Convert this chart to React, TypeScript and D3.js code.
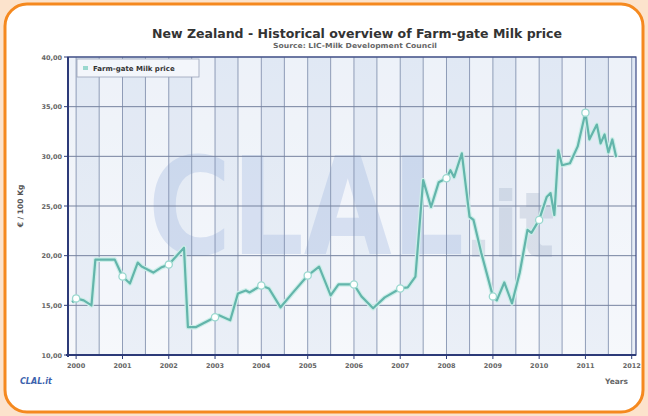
import React from 'react';
import * as d3 from 'd3';

// Farm-gate milk price, NZ (€ / 100 kg)
const months = [
  '1999-12', '2000-01', '2000-03', '2000-05', '2000-06', '2000-11',
  '2001-01', '2001-03', '2001-05', '2001-06', '2001-09', '2001-11',
  '2002-01', '2002-05', '2002-06', '2002-08', '2002-10',
  '2003-01', '2003-02', '2003-05', '2003-07', '2003-09', '2003-10',
  '2004-01', '2004-03', '2004-06', '2004-09',
  '2005-01', '2005-04', '2005-07', '2005-09',
  '2006-01', '2006-03', '2006-06', '2006-09',
  '2007-01', '2007-03', '2007-05', '2007-07', '2007-09', '2007-11',
  '2008-01', '2008-02', '2008-03', '2008-05', '2008-07', '2008-08', '2008-10',
  '2009-01', '2009-02', '2009-04', '2009-06', '2009-08', '2009-10', '2009-11',
  '2010-01', '2010-03', '2010-04', '2010-05', '2010-06', '2010-07', '2010-09', '2010-11',
  '2011-01', '2011-02', '2011-04', '2011-05', '2011-06', '2011-07', '2011-08', '2011-09',
];
const prices = [
  15.3, 15.7, 15.5, 15.0, 19.6, 19.6,
  17.9, 17.2, 19.3, 18.9, 18.3, 18.8,
  19.1, 20.8, 12.8, 12.8, 13.2,
  13.8, 14.0, 13.5, 16.2, 16.5, 16.3,
  17.0, 16.7, 14.8, 16.2,
  18.0, 18.9, 16.0, 17.1,
  17.1, 15.9, 14.7, 15.8,
  16.7, 16.8, 17.9, 27.6, 24.9, 27.4,
  27.8, 28.6, 27.9, 30.3, 23.9, 23.6, 20.3,
  15.9, 15.5, 17.3, 15.2, 18.3, 22.6, 22.3,
  23.6, 25.9, 26.3, 24.1, 30.6, 29.1, 29.3, 31.0,
  34.4, 31.7, 33.2, 31.3, 32.2, 30.4, 31.7, 29.9,
];
const yTicks = [10, 15, 20, 25, 30, 35, 40];
const years = d3.range(2000, 2013);

const W = 648;
const H = 416;
const font = 'DejaVu Sans, Verdana, sans-serif';

const parse = d3.timeParse('%Y-%m');
const points = months.map((m, i) => ({ date: parse(m) as Date, value: prices[i] }));

const x = d3.scaleTime()
  .domain([new Date(1999, 9, 29), new Date(2012, 1, 4)])
  .range([68, 636]);
const y = d3.scaleLinear().domain([10, 40]).range([355, 57]);

const fmt = (v: number) => d3.format('.2f')(v).replace('.', ',');

export default function App() {
  const [x0, x1] = x.range();
  const [yb, yt] = y.range();

  // half-year grid positions
  const halfYears: Date[] = [];
  years.forEach(yr => {
    halfYears.push(new Date(yr, 0, 1));
    if (yr < 2012) halfYears.push(new Date(yr, 6, 1));
  });
  const edges = [x0, ...halfYears.map(d => x(d)), x1];

  const line = d3.line<{ date: Date; value: number }>()
    .x(d => x(d.date))
    .y(d => y(d.value));
  const path = line(points) || '';

  return (
    <div style={{ position: 'absolute', left: 0, top: 0 }}>
      <svg width={W} height={H} style={{ display: 'block' }}>
        <defs>
          <linearGradient id="plotbg" x1="0" y1="0" x2="0" y2="1">
            <stop offset="0%" stopColor="#e6ecf6" />
            <stop offset="100%" stopColor="#f2f5fa" />
          </linearGradient>
          <clipPath id="plotclip">
            <rect x={x0} y={yt} width={x1 - x0} height={yb - yt} />
          </clipPath>
        </defs>

        <rect x={0} y={0} width={W} height={H} fill="#fce3cc" />
        <rect x={5} y={4} width={638} height={408} rx={22} fill="#ffffff" stroke="#f5891f" strokeWidth={3} />

        {/* plot background and bands */}
        <rect x={x0} y={yt} width={x1 - x0} height={yb - yt} fill="url(#plotbg)" />
        {edges.slice(0, -1).map((e, i) => (
          <rect key={i} x={e} y={yt} width={edges[i + 1] - e} height={yb - yt}
            fill={i % 2 === 0 ? '#ffffff' : '#cfdaee'} opacity={i % 2 === 0 ? 0.3 : 0.22} />
        ))}

        {/* watermark */}
        <g clipPath="url(#plotclip)">
          <text transform="translate(148,254) scale(0.836,1)" fontFamily={font} fontWeight="bold"
            fontSize={136} fill="#9cb4df" opacity={0.32}>
            CLAL<tspan fontSize={90} dy={3} fill="#a3b1c8">.it</tspan>
          </text>
        </g>

        {/* grid */}
        {halfYears.map((d, i) => (
          <line key={'v' + i} x1={x(d)} x2={x(d)} y1={yt} y2={yb} stroke="#8593b0" strokeWidth={0.9} />
        ))}
        {yTicks.map(t => (
          <line key={'h' + t} x1={x0} x2={x1} y1={y(t)} y2={y(t)} stroke="#76839f" strokeWidth={1} />
        ))}

        {/* frame */}
        <rect x={x0} y={yt} width={x1 - x0} height={yb - yt} fill="none" stroke="#3b4a86" strokeWidth={1.2} />
        <line x1={x0} x2={x0} y1={yt} y2={yb + 2} stroke="#2c3a78" strokeWidth={2} />
        <line x1={x0 - 2} x2={x1} y1={yb} y2={yb} stroke="#2c3a78" strokeWidth={2} />

        {/* y ticks */}
        {yTicks.map(t => (
          <g key={'yt' + t}>
            <line x1={x0 - 4} x2={x0} y1={y(t)} y2={y(t)} stroke="#2c3a78" strokeWidth={1} />
            <text x={x0 - 6} y={y(t) + 2.5} textAnchor="end" fontFamily={font} fontWeight="bold"
              fontSize={6.5} fill="#666">{fmt(t)}</text>
          </g>
        ))}
        <text transform={`translate(23,${(yt + yb) / 2}) rotate(-90)`} textAnchor="middle"
          fontFamily={font} fontWeight="bold" fontSize={7.5} fill="#555">€ / 100 Kg</text>

        {/* x ticks */}
        {years.map(yr => (
          <g key={'xt' + yr}>
            <line x1={x(new Date(yr, 0, 1))} x2={x(new Date(yr, 0, 1))} y1={yb} y2={yb + 4}
              stroke="#2c3a78" strokeWidth={1} />
            <text x={x(new Date(yr, 0, 1))} y={yb + 13} textAnchor="middle" fontFamily={font}
              fontWeight="bold" fontSize={6.5} fill="#666">{yr}</text>
          </g>
        ))}
        <text x={628} y={384} textAnchor="end" fontFamily={font} fontWeight="bold" fontSize={7.5} fill="#666">Years</text>
        <text x={20} y={384} fontFamily={font} fontWeight="bold" fontStyle="italic" fontSize={8} fill="#3c62ad">CLAL.it</text>

        {/* series */}
        <g clipPath="url(#plotclip)">
          <path d={path} fill="none" stroke="#cdeee9" strokeWidth={4.6} strokeLinejoin="round" />
          <path d={path} fill="none" stroke="#63b5ab" strokeWidth={2.2} strokeLinejoin="round" />
          {points.filter(p => p.date.getMonth() === 0).map((p, i) => (
            <circle key={i} cx={x(p.date)} cy={y(p.value)} r={3.6} fill="#ffffff"
              stroke="#9ad8cf" strokeWidth={1.3} />
          ))}
        </g>

        {/* legend */}
        <rect x={77} y={59} width={122} height={18} fill="#f3f6fb" stroke="#9aa3b8" strokeWidth={0.8} />
        <rect x={83} y={66} width={5} height={4} fill="#9ad8cf" />
        <text x={93} y={70.5} fontFamily={font} fontWeight="bold" fontSize={7} fill="#333">Farm-gate Milk price</text>

        {/* titles */}
        <text x={357} y={38} textAnchor="middle" fontFamily={font} fontWeight="bold" fontSize={12}
          textLength={410} lengthAdjust="spacingAndGlyphs" fill="#333">
          New Zealand - Historical overview of Farm-gate Milk price
        </text>
        <text x={355} y={48} textAnchor="middle" fontFamily={font} fontWeight="bold" fontSize={7}
          textLength={164} lengthAdjust="spacingAndGlyphs" fill="#666">
          Source: LIC-Milk Development Council
        </text>
      </svg>
    </div>
  );
}
